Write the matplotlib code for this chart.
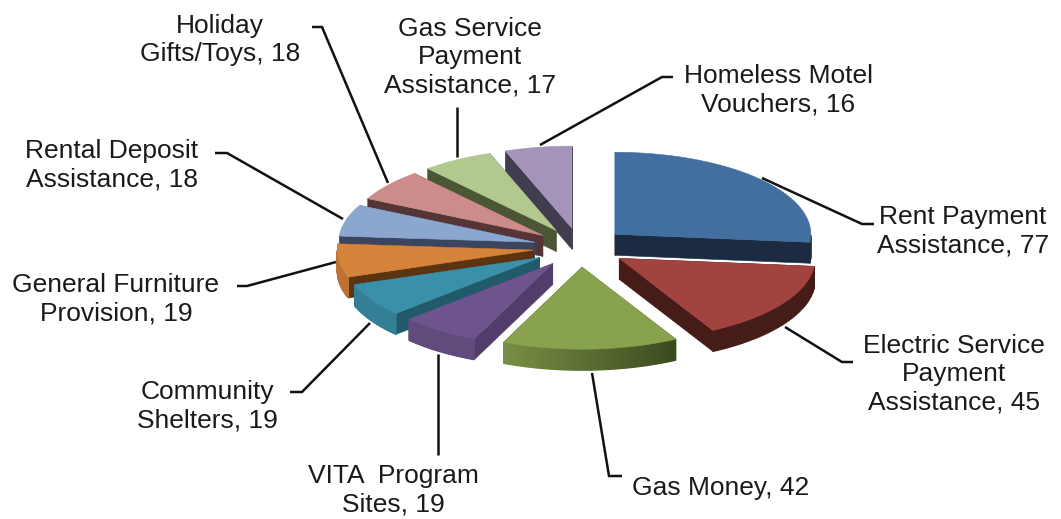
import numpy as np
import matplotlib
matplotlib.use('Agg')
import matplotlib.pyplot as plt
from matplotlib.colors import to_rgb
from matplotlib.patches import Polygon

plt.rcParams['font.family'] = ['Liberation Sans', 'DejaVu Sans']

# data
labels = ['Rent Payment\nAssistance, 77', 'Electric Service\nPayment\nAssistance, 45',
          'Gas Money, 42', 'VITA  Program\nSites, 19', 'Community\nShelters, 19',
          'General Furniture\nProvision, 19', 'Rental Deposit\nAssistance, 18',
          'Holiday\nGifts/Toys, 18', 'Gas Service\nPayment\nAssistance, 17',
          'Homeless Motel\nVouchers, 16']
values = [77, 45, 42, 19, 19, 19, 18, 18, 17, 16]

# colours: top face, radial side face
top_colors = ['#426f9f', '#a34340', '#88a24e', '#6e548d', '#3b90a9',
              '#d5823a', '#8ba6cf', '#cb8c8b', '#b1c88e', '#a594ba']
side_colors = ['#1a2b42', '#451c18', '#3b4a1e', '#523c6b', '#215a6b',
               '#5d3410', '#3a4560', '#563536', '#4b5635', '#413c4e']

# layout in pixels
label_pos = [(963, 231), (954, 374), (721, 488), (393, 490), (207, 406),
             (116, 299), (112, 165), (220, 40), (470, 57), (778, 90)]
leaders = [[(762, 178), (862, 224), (874, 224)],
           [(785, 327), (842, 362), (853, 362)],
           [(592, 373), (609, 476), (622, 476)],
           [(438, 354), (438, 455)],
           [(370, 323), (302, 392), (290, 392)],
           [(336, 262), (247, 286), (237, 286)],
           [(343, 219), (227, 153), (215, 153)],
           [(388, 183), (322, 27), (312, 27)],
           [(457, 157), (457, 107)],
           [(540, 145), (662, 77), (673, 77)]]
cx, cy = 580, 247.5
rx, ry = 196, 82
explode = 0.24
depth = 21

fig = plt.figure(figsize=(10.61, 5.19), dpi=100)
ax = fig.add_axes([0, 0, 1, 1])
ax.set_xlim(0, 1061)
ax.set_ylim(519, 0)
ax.axis('off')


def blend(c1, c2, t):
    a = np.array(to_rgb(c1))
    b = np.array(to_rgb(c2))
    return tuple(a + (b - a) * t)


def quad(p1, p2, color, z, lw=0.4):
    pts = [p1, p2, (p2[0], p2[1] + depth), (p1[0], p1[1] + depth)]
    ax.add_patch(Polygon(pts, closed=True, facecolor=color, edgecolor=color, lw=lw, zorder=z))


# slice angles, clockwise from 12 o'clock
edges = np.cumsum([0] + values) / sum(values) * 2 * np.pi

for i in range(len(values)):
    a0, a1 = edges[i], edges[i + 1]
    mid = (a0 + a1) / 2
    ox = cx + explode * rx * np.sin(mid)
    oy = cy - explode * ry * np.cos(mid)
    ang = np.linspace(a0, a1, 60)
    xs = ox + rx * np.sin(ang)
    ys = oy - ry * np.cos(ang)
    z = oy  # further back gets drawn first

    # straight sides
    quad((ox, oy), (xs[0], ys[0]), side_colors[i], z)
    quad((ox, oy), (xs[-1], ys[-1]), side_colors[i], z)

    # outer rim, only the part facing us, darker towards the right
    for j in range(len(ang) - 1):
        am = (ang[j] + ang[j + 1]) / 2
        if np.cos(am) > 0:
            continue
        t = np.clip((np.sin(am) + 0.4) / 0.88, 0, 1)
        rim = blend(blend(top_colors[i], '#000000', 0.12), side_colors[i], t)
        quad((xs[j], ys[j]), (xs[j + 1], ys[j + 1]), rim, z, lw=0.9)

    top = [(ox, oy)] + list(zip(xs, ys))
    ax.add_patch(Polygon(top, closed=True, facecolor=top_colors[i], edgecolor=top_colors[i],
                         lw=0.4, zorder=z + 0.5))

for i in range(len(labels)):
    ax.plot([p[0] for p in leaders[i]], [p[1] for p in leaders[i]], color='#111111', lw=1.8,
            solid_capstyle='butt', solid_joinstyle='miter', zorder=600)
    ax.text(label_pos[i][0], label_pos[i][1], labels[i], ha='center', va='center',
            fontsize=19, color='#1a1a1a', linespacing=1.22, zorder=700)

fig.savefig('out.png', dpi=100)
